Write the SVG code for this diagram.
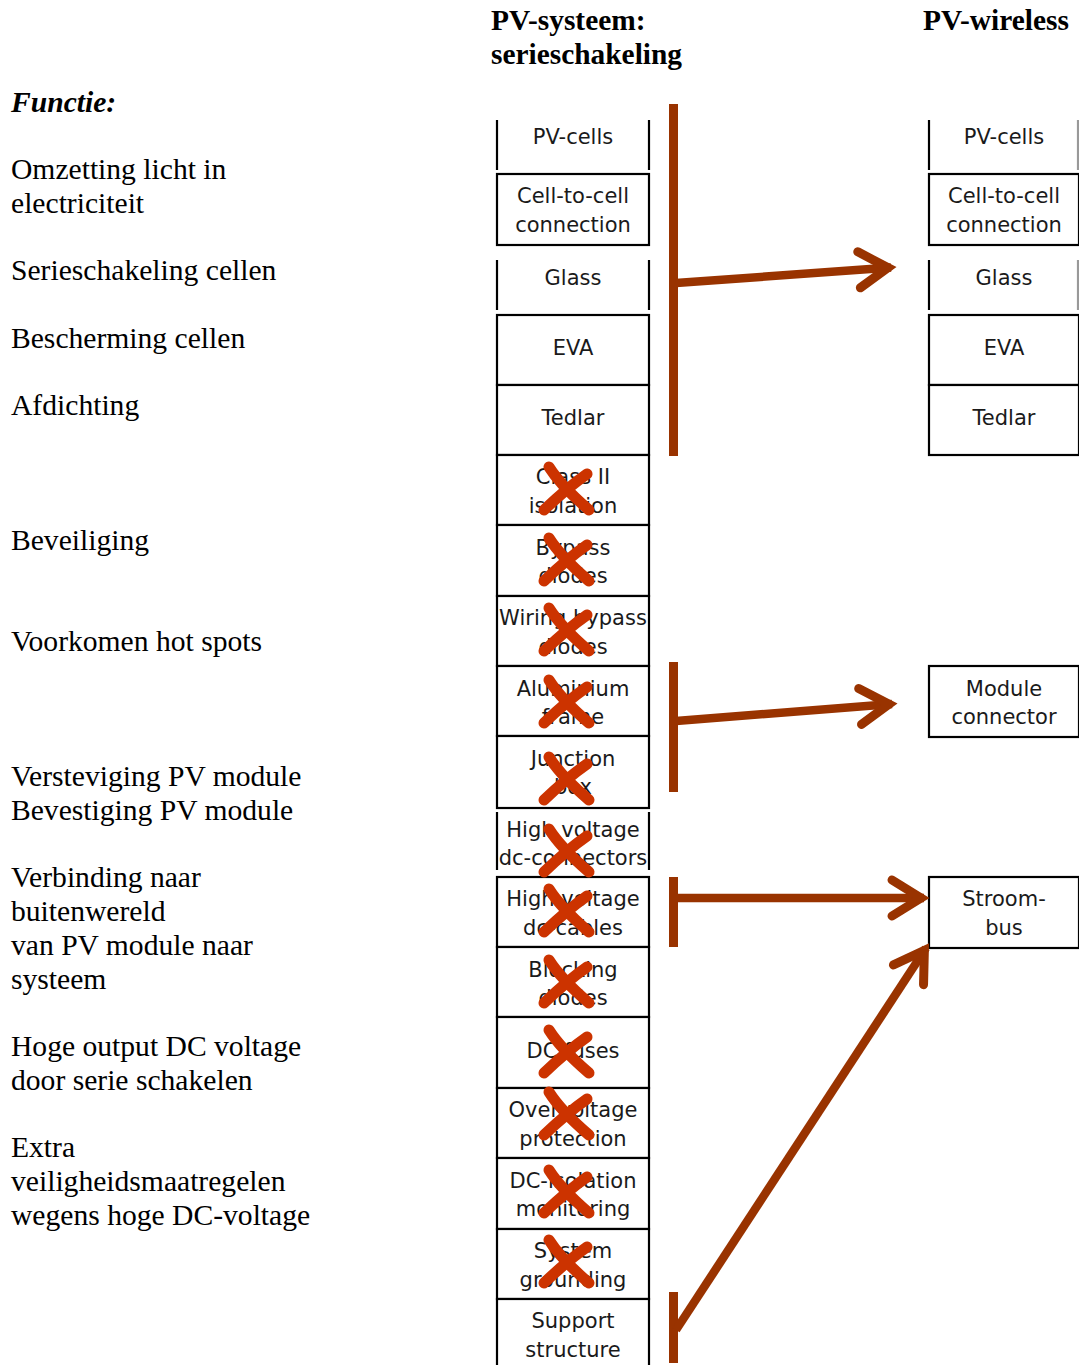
<svg xmlns="http://www.w3.org/2000/svg" xmlns:xlink="http://www.w3.org/1999/xlink" width="1079" height="1365" viewBox="0 0 1079 1365">
<style>
.lbl{font-family:"Liberation Serif","Times New Roman",serif;font-size:29.6px;fill:#000}
.hdr{font-family:"Liberation Serif","Times New Roman",serif;font-size:29.4px;font-weight:bold;fill:#000}
.bt{font-family:"DejaVu Sans","Verdana",sans-serif;font-size:21px;fill:#1a1a1a;text-anchor:middle}
.box{fill:#fff;stroke:#000;stroke-width:2.2}
.side{stroke:#000;stroke-width:2.2}
.bar{fill:#993300}
.arr{fill:none;stroke:#993300;stroke-width:8.5}
.xm{fill:none;stroke:#cc3300;stroke-width:11;stroke-linecap:round}
</style>
<defs>
<marker id="ah" markerUnits="userSpaceOnUse" orient="auto" refX="0" refY="0" markerWidth="60" markerHeight="60" viewBox="-40 -30 60 60" overflow="visible">
<path d="M-32,-18 L-3,0 L-32,18" fill="none" stroke="#993300" stroke-width="9" stroke-linecap="round" stroke-linejoin="miter"/>
</marker>
<g id="x">
<path class="xm" d="M-16,-23 Q-4,-4 24,20"/>
<path class="xm" d="M22,-16 Q2,-2 -21,20"/>
</g>
</defs>
<rect width="1079" height="1365" fill="#fff"/>

<g id="headers">
<text class="hdr" x="491" y="30">PV-systeem:</text>
<text class="hdr" x="491" y="64">serieschakeling</text>
<text class="hdr" x="923" y="30">PV-wireless</text>
</g>

<g id="functions">
<text class="lbl" x="11" y="112" font-weight="bold" font-style="italic">Functie:</text>
<text class="lbl" x="11" y="179">Omzetting licht in</text>
<text class="lbl" x="11" y="213">electriciteit</text>
<text class="lbl" x="11" y="280">Serieschakeling cellen</text>
<text class="lbl" x="11" y="348">Bescherming cellen</text>
<text class="lbl" x="11" y="415">Afdichting</text>
<text class="lbl" x="11" y="550">Beveiliging</text>
<text class="lbl" x="11" y="651">Voorkomen hot spots</text>
<text class="lbl" x="11" y="786">Versteviging PV module</text>
<text class="lbl" x="11" y="820">Bevestiging PV module</text>
<text class="lbl" x="11" y="887">Verbinding naar</text>
<text class="lbl" x="11" y="921">buitenwereld</text>
<text class="lbl" x="11" y="955">van PV module naar</text>
<text class="lbl" x="11" y="989">systeem</text>
<text class="lbl" x="11" y="1056">Hoge output DC voltage</text>
<text class="lbl" x="11" y="1090">door serie schakelen</text>
<text class="lbl" x="11" y="1157">Extra</text>
<text class="lbl" x="11" y="1191">veiligheidsmaatregelen</text>
<text class="lbl" x="11" y="1225">wegens hoge DC-voltage</text>
</g>

<!-- Left column: PV-systeem serieschakeling -->
<g id="s-pvcells"><line class="side" x1="497" y1="120" x2="497" y2="170"/><line class="side" x1="649" y1="120" x2="649" y2="170"/><text class="bt" x="573" y="144">PV-cells</text></g>
<g id="s-c2c"><rect class="box" x="497" y="174" width="152" height="71"/><text class="bt" x="573" y="203">Cell-to-cell</text><text class="bt" x="573" y="232">connection</text></g>
<g id="s-glass"><line class="side" x1="497" y1="260" x2="497" y2="310"/><line class="side" x1="649" y1="260" x2="649" y2="310"/><text class="bt" x="573" y="285">Glass</text></g>
<g id="s-eva"><rect class="box" x="497" y="315" width="152" height="70"/><text class="bt" x="573" y="355">EVA</text></g>
<g id="s-tedlar"><rect class="box" x="497" y="385" width="152" height="70"/><text class="bt" x="573" y="425">Tedlar</text></g>
<g id="s-class2"><rect class="box" x="497" y="455" width="152" height="70"/><text class="bt" x="573" y="484">Class II</text><text class="bt" x="573" y="513">isolation</text></g>
<g id="s-bypass"><rect class="box" x="497" y="525" width="152" height="71"/><text class="bt" x="573" y="555">Bypass</text><text class="bt" x="573" y="583">diodes</text></g>
<g id="s-wiring"><rect class="box" x="497" y="596" width="152" height="70"/><text class="bt" x="573" y="625">Wiring bypass</text><text class="bt" x="573" y="654">diodes</text></g>
<g id="s-alu"><rect class="box" x="497" y="666" width="152" height="70"/><text class="bt" x="573" y="696">Aluminium</text><text class="bt" x="573" y="724">frame</text></g>
<g id="s-junction"><rect class="box" x="497" y="736" width="152" height="72"/><text class="bt" x="573" y="766">Junction</text><text class="bt" x="573" y="794">box</text></g>
<g id="s-hvconn"><line class="side" x1="497" y1="812" x2="497" y2="870"/><line class="side" x1="649" y1="812" x2="649" y2="870"/><text class="bt" x="573" y="837">High voltage</text><text class="bt" x="573" y="865">dc-connectors</text></g>
<g id="s-hvcables"><rect class="box" x="497" y="877" width="152" height="70"/><text class="bt" x="573" y="906">High voltage</text><text class="bt" x="573" y="935">dc-cables</text></g>
<g id="s-blocking"><rect class="box" x="497" y="947" width="152" height="70"/><text class="bt" x="573" y="977">Blocking</text><text class="bt" x="573" y="1005">diodes</text></g>
<g id="s-fuses"><rect class="box" x="497" y="1017" width="152" height="71"/><text class="bt" x="573" y="1058">DC fuses</text></g>
<g id="s-overv"><rect class="box" x="497" y="1088" width="152" height="70"/><text class="bt" x="573" y="1117">Overvoltage</text><text class="bt" x="573" y="1146">protection</text></g>
<g id="s-dciso"><rect class="box" x="497" y="1158" width="152" height="71"/><text class="bt" x="573" y="1188">DC-isolation</text><text class="bt" x="573" y="1216">monitoring</text></g>
<g id="s-ground"><rect class="box" x="497" y="1229" width="152" height="70"/><text class="bt" x="573" y="1258">System</text><text class="bt" x="573" y="1287">grounding</text></g>
<g id="s-support"><rect class="box" x="497" y="1299" width="152" height="80"/><text class="bt" x="573" y="1328">Support</text><text class="bt" x="573" y="1357">structure</text></g>

<!-- crosses -->
<g id="crosses">
<use href="#x" xlink:href="#x" x="565" y="490"/>
<use href="#x" xlink:href="#x" x="565" y="561"/>
<use href="#x" xlink:href="#x" x="565" y="631"/>
<use href="#x" xlink:href="#x" x="565" y="703"/>
<use href="#x" xlink:href="#x" x="565" y="780"/>
<use href="#x" xlink:href="#x" x="565" y="852"/>
<use href="#x" xlink:href="#x" x="565" y="912"/>
<use href="#x" xlink:href="#x" x="565" y="983"/>
<use href="#x" xlink:href="#x" x="565" y="1053"/>
<use href="#x" xlink:href="#x" x="565" y="1115"/>
<use href="#x" xlink:href="#x" x="565" y="1193"/>
<use href="#x" xlink:href="#x" x="565" y="1263"/>
</g>

<!-- Right column: PV-wireless -->
<g id="w-pvcells"><line class="side" x1="929" y1="120" x2="929" y2="170"/><line class="side" x1="1078" y1="120" x2="1078" y2="170" stroke-opacity="0.4"/><text class="bt" x="1004" y="144">PV-cells</text></g>
<g id="w-c2c"><rect class="box" x="929" y="174" width="150" height="71"/><text class="bt" x="1004" y="203">Cell-to-cell</text><text class="bt" x="1004" y="232">connection</text></g>
<g id="w-glass"><line class="side" x1="929" y1="260" x2="929" y2="310"/><line class="side" x1="1078" y1="260" x2="1078" y2="310" stroke-opacity="0.4"/><text class="bt" x="1004" y="285">Glass</text></g>
<g id="w-eva"><rect class="box" x="929" y="315" width="150" height="70"/><text class="bt" x="1004" y="355">EVA</text></g>
<g id="w-tedlar"><rect class="box" x="929" y="385" width="150" height="70"/><text class="bt" x="1004" y="425">Tedlar</text></g>
<g id="w-module"><rect class="box" x="929" y="666" width="150" height="71"/><text class="bt" x="1004" y="696">Module</text><text class="bt" x="1004" y="724">connector</text></g>
<g id="w-stroombus"><rect class="box" x="929" y="877" width="150" height="71"/><text class="bt" x="1004" y="906">Stroom-</text><text class="bt" x="1004" y="935">bus</text></g>

<!-- connectors -->
<g id="connectors">
<rect class="bar" x="669" y="104" width="9" height="352"/>
<rect class="bar" x="669" y="662" width="9" height="130"/>
<rect class="bar" x="669" y="877" width="9" height="70"/>
<rect class="bar" x="669" y="1292" width="9" height="71"/>
<line class="arr" x1="676" y1="283" x2="891" y2="267.5" marker-end="url(#ah)"/>
<line class="arr" x1="676" y1="721" x2="892" y2="704" marker-end="url(#ah)"/>
<line class="arr" x1="676" y1="898" x2="924" y2="898" marker-end="url(#ah)"/>
<line class="arr" x1="676" y1="1330" x2="926" y2="948" marker-end="url(#ah)"/>
</g>
</svg>
